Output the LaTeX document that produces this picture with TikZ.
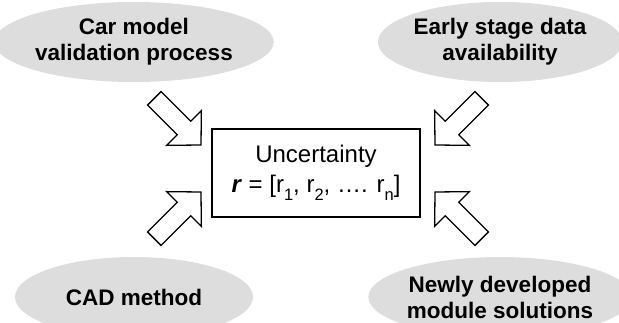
\documentclass[tikz,border=0pt]{standalone}
\usepackage{fontspec}
\setmainfont{Liberation Sans}
\usetikzlibrary{shapes.geometric}
\definecolor{bubblegray}{RGB}{221,221,221}

% hollow block arrow, tip at the origin, pointing along +x
\newcommand\hollowarrow[2]{%
  \begin{scope}[shift={#1}, rotate=#2]
    \draw[arrowline] (-66,-9.5) -- (-24,-9.5) -- (-24,-24.5) -- (0,0)
      -- (-24,24.5) -- (-24,9.5) -- (-66,9.5) -- cycle;
  \end{scope}}

% index set low and fairly large, as in r_1
\newcommand\lowidx[1]{\raisebox{-8.5pt}{\fontsize{16.5}{16.5}\selectfont #1}}

\begin{document}
\begin{tikzpicture}[x=1pt,y=-1pt,
  bubble/.style={ellipse, fill=bubblegray, minimum width=238pt,
    minimum height=80pt, inner sep=0pt, align=center,
    font=\fontsize{22.5}{26}\selectfont\bfseries},
  centrebox/.style={draw, line width=1.8pt, minimum width=208pt,
    minimum height=88pt, align=center, inner sep=0pt,
    font=\fontsize{24}{30}\selectfont},
  arrowline/.style={draw, fill=white, line width=1.3pt, line join=miter}]
  \useasboundingbox (0,0) rectangle (619,323);
  \clip (0,0) rectangle (619,323);

  \node[bubble] (valid) at (134,42) {Car model\\validation process};
  \node[bubble] (early) at (500,42) {Early stage data\\availability};
  \node[bubble] (cad)   at (134,297) {CAD method};
  \node[bubble] (newly) at (500,297) {Newly developed\\module solutions};

  \node[centrebox] (unc) at (316,173)
    {Uncertainty\\\textbf{\textit{r}} = [r\lowidx{1}, r\lowidx{2}, …. r\lowidx{n}]};

  \hollowarrow{(201,145)}{-45}
  \hollowarrow{(435,145)}{-135}
  \hollowarrow{(201,192)}{45}
  \hollowarrow{(435,192)}{135}
\end{tikzpicture}
\end{document}
